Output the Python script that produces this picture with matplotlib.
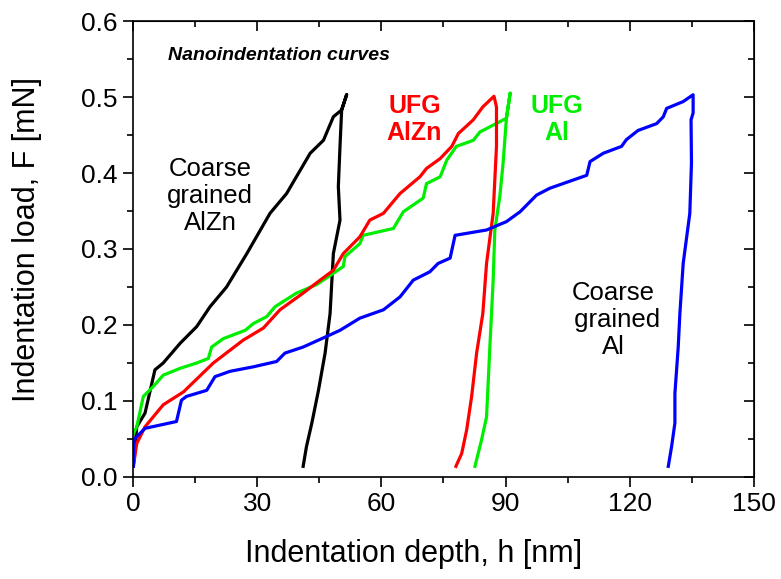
import matplotlib.pyplot as plt
from matplotlib.ticker import MultipleLocator

plt.rcParams['font.family'] = ['Liberation Sans', 'DejaVu Sans']

# Coarse grained AlZn (black)
h_cg_alzn = [0.2, 0.9, 2.9, 5.3, 7.3, 11.4, 15.4, 18.6, 22.6, 27.5, 33.1, 37.1, 42.8, 46.0, 48.4,
             50.4, 51.6, 50.4, 50.0, 49.6, 50.0, 48.4, 47.6, 46.4, 44.8, 43.2, 41.9, 41.1]
f_cg_alzn = [0.020, 0.066, 0.084, 0.141, 0.150, 0.176, 0.198, 0.224, 0.250, 0.294, 0.347, 0.373,
             0.426, 0.443, 0.474, 0.483, 0.503, 0.483, 0.435, 0.382, 0.338, 0.294, 0.215, 0.163,
             0.114, 0.071, 0.040, 0.014]

# UFG AlZn (red)
h_ufg_alzn = [0.1, 0.9, 2.9, 7.3, 12.2, 19.4, 26.6, 31.5, 35.5, 41.1, 45.2, 48.4, 50.8, 54.8,
              57.2, 60.5, 64.5, 69.3, 70.9, 74.2, 77.0, 78.6, 82.2, 84.5, 87.2,
              87.8, 87.8, 87.4, 87.0, 85.4, 84.5, 83.0, 81.8, 80.6, 79.4, 78.0]
f_ufg_alzn = [0.014, 0.044, 0.066, 0.095, 0.112, 0.150, 0.180, 0.196, 0.220, 0.242, 0.259, 0.272,
              0.294, 0.316, 0.338, 0.347, 0.373, 0.395, 0.406, 0.419, 0.435, 0.452, 0.470, 0.487,
              0.501, 0.487, 0.435, 0.391, 0.347, 0.281, 0.215, 0.163, 0.106, 0.062, 0.031, 0.014]

# UFG Al (green)
h_ufg_al = [0.1, 0.9, 2.5, 4.9, 7.3, 11.4, 15.4, 18.2, 19.0, 21.8, 27.1, 29.1, 32.3, 34.3, 39.5,
            44.3, 48.4, 50.8, 51.2, 54.8, 55.6, 62.9, 65.3, 70.1, 70.9, 74.2, 75.8, 78.1, 82.2,
            83.8, 90.2, 91.1, 90.2, 89.4, 88.6, 87.4, 87.0, 86.2, 85.4, 84.2, 82.6]
f_ufg_al = [0.057, 0.066, 0.106, 0.119, 0.134, 0.143, 0.150, 0.156, 0.171, 0.182, 0.193, 0.202,
            0.211, 0.224, 0.242, 0.253, 0.268, 0.277, 0.290, 0.307, 0.318, 0.327, 0.349, 0.367,
            0.386, 0.395, 0.417, 0.435, 0.443, 0.454, 0.472, 0.505, 0.472, 0.413, 0.369, 0.325,
            0.259, 0.171, 0.079, 0.049, 0.014]

# Coarse grained Al (blue)
h_cg_al = [0.1, 0.2, 0.9, 2.9, 10.5, 11.7, 12.9, 17.8, 19.8, 23.4, 29.1, 34.7, 36.7, 41.1, 46.8,
           50.0, 54.8, 60.5, 64.5, 67.7, 71.7, 73.7, 76.6, 77.8, 85.4, 90.2, 93.5, 97.5, 100.7,
           109.6, 110.4, 113.6, 118.0, 119.2, 122.0, 126.5, 128.1, 128.9, 132.9, 135.3,
           135.3, 134.8, 134.9, 134.5, 132.9, 132.1, 131.7, 130.9, 130.9, 130.1, 129.3]
f_cg_al = [0.014, 0.049, 0.053, 0.064, 0.073, 0.101, 0.106, 0.114, 0.132, 0.139, 0.145, 0.152,
           0.163, 0.171, 0.185, 0.193, 0.209, 0.220, 0.237, 0.259, 0.270, 0.281, 0.288, 0.318,
           0.325, 0.336, 0.349, 0.371, 0.380, 0.397, 0.415, 0.426, 0.435, 0.444, 0.456, 0.465,
           0.474, 0.485, 0.494, 0.503, 0.479, 0.470, 0.413, 0.347, 0.281, 0.215, 0.171, 0.110,
           0.071, 0.040, 0.014]

fig = plt.figure(figsize=(7.81, 5.79), dpi=100)
ax = fig.add_axes([0.1703, 0.1762, 0.7951, 0.7875])

lw = 2.3
ax.plot(h_cg_alzn, f_cg_alzn, color='black', lw=lw)
ax.plot(h_ufg_al, f_ufg_al, color='#00ee00', lw=lw)
ax.plot(h_ufg_alzn, f_ufg_alzn, color='#ff0000', lw=lw)
ax.plot(h_cg_al, f_cg_al, color='#0000ff', lw=lw)

ax.set_xlim(0, 150)
ax.set_ylim(0, 0.6)
ax.xaxis.set_major_locator(MultipleLocator(30))
ax.xaxis.set_minor_locator(MultipleLocator(15))
ax.yaxis.set_major_locator(MultipleLocator(0.1))
ax.yaxis.set_minor_locator(MultipleLocator(0.05))
ax.yaxis.set_major_formatter(plt.FormatStrFormatter('%.1f'))

for s in ax.spines.values():
    s.set_linewidth(1.2)
ax.tick_params(which='both', direction='out', width=1.2, labelsize=19, pad=4)
ax.tick_params(which='major', length=7)
ax.tick_params(which='minor', length=4)

# inward ticks on top and right
sec_x = ax.secondary_xaxis('top')
sec_x.xaxis.set_major_locator(MultipleLocator(30))
sec_x.xaxis.set_minor_locator(MultipleLocator(15))
sec_x.tick_params(which='both', direction='in', width=1.2, labeltop=False)
sec_x.tick_params(which='major', length=7)
sec_x.tick_params(which='minor', length=4)
sec_y = ax.secondary_yaxis('right')
sec_y.yaxis.set_major_locator(MultipleLocator(0.1))
sec_y.yaxis.set_minor_locator(MultipleLocator(0.05))
sec_y.tick_params(which='both', direction='in', width=1.2, labelright=False)
sec_y.tick_params(which='major', length=7)
sec_y.tick_params(which='minor', length=4)

ax.set_xlabel('Indentation depth, h [nm]', fontsize=22)
ax.set_ylabel('Indentation load, F [mN]', fontsize=22)
ax.xaxis.set_label_coords(0.451, -0.137)
ax.yaxis.set_label_coords(-0.147, 0.52)

ax.text(8.5, 0.555, 'Nanoindentation curves', fontsize=14, fontweight='bold',
        fontstyle='italic', va='center', ha='left')
ax.text(18.6, 0.37, 'Coarse\ngrained\nAlZn', fontsize=18.5, ha='center', va='center',
        linespacing=1.15)
ax.text(68, 0.47, 'UFG\nAlZn', fontsize=18, fontweight='bold', color='#ff0000',
        ha='center', va='center', linespacing=1.15)
ax.text(102.4, 0.47, 'UFG\nAl', fontsize=18, fontweight='bold', color='#00ee00',
        ha='center', va='center', linespacing=1.15)
ax.text(116, 0.207, 'Coarse\n grained\nAl', fontsize=18.5, ha='center', va='center',
        linespacing=1.15)

fig.savefig('out.png', dpi=100)
